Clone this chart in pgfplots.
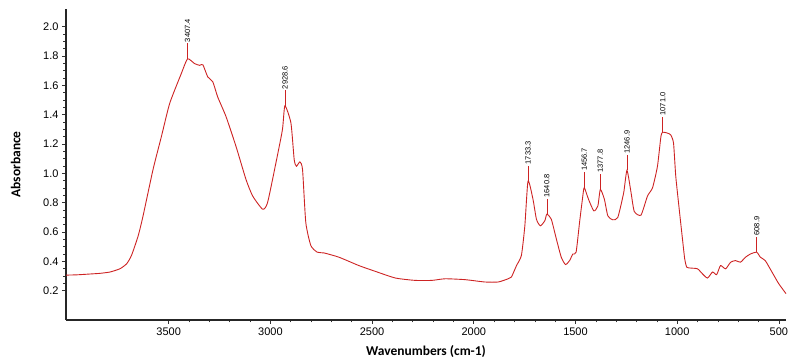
\documentclass[border=0pt]{standalone}
\usepackage{pgfplots}
\pgfplotsset{compat=1.18}
\usepackage{fontspec}
\setmainfont{Liberation Sans}
\newfontfamily\labelfont{Carlito}
\definecolor{specred}{RGB}{205,35,35}
\tikzset{pk/.style={specred, line width=0.6pt}, pklab/.style={black, rotate=90, anchor=west, inner sep=1pt, font=\fontsize{7.5}{8}\selectfont}}
\begin{document}
\begin{tikzpicture}
\begin{axis}[
  scale only axis,
  width=720pt, height=311pt,
  x dir=reverse,
  xmin=465, xmax=4005,
  ymin=0, ymax=2.12,
  axis lines=left,
  axis line style={-, line width=1.2pt, black!85},
  xtick={500,1000,...,3500},
  ytick={0.2,0.4,...,2.01},
  minor x tick num=4,
  minor y tick num=3,
  tick align=outside,
  major tick length=4pt,
  minor tick length=2.5pt,
  tick style={black!80, line width=0.6pt},
  /pgf/number format/assume math mode=true,
  x tick label style={font=\fontsize{11}{12}\selectfont, /pgf/number format/1000 sep={}},
  y tick label style={font=\fontsize{11}{12}\selectfont, /pgf/number format/fixed, /pgf/number format/fixed zerofill, /pgf/number format/precision=1},
  xlabel={\labelfont\bfseries Wavenumbers (cm-1)},
  ylabel={\labelfont\bfseries Absorbance},
  xlabel style={font=\fontsize{13.5}{14}\selectfont, at={(axis description cs:0.5,0)}, anchor=north, yshift=-22pt},
  ylabel style={font=\fontsize{13.5}{14}\selectfont, at={(axis description cs:0,0.5)}, anchor=south, yshift=42pt},
  clip=false,
]
\addplot[color=specred, line width=0.9pt, smooth, tension=0.35] coordinates {
(4004,0.306) (3950,0.308) (3870,0.315) (3838,0.318) (3789,0.327) (3740,0.349)
(3707,0.383) (3683,0.44) (3650,0.574) (3626,0.71) (3577,1.026) (3536,1.25)
(3495,1.477) (3438,1.68) (3407.4,1.78) (3373,1.748) (3348,1.736) (3332,1.74)
(3308,1.657) (3283,1.623) (3259,1.52) (3218,1.386) (3169,1.183) (3120,0.958)
(3087,0.845) (3038,0.755) (3014,0.80) (2973,1.07) (2941,1.296) (2928.6,1.46)
(2899,1.342) (2883,1.093) (2872,1.048) (2855,1.078) (2842,1.026) (2826,0.665)
(2801,0.507) (2769,0.462) (2736,0.457) (2663,0.428) (2565,0.371) (2483,0.331)
(2385,0.286) (2288,0.27) (2206,0.27) (2141,0.281) (2043,0.275) (1945,0.259)
(1880,0.259) (1831,0.281) (1815,0.293) (1790,0.371) (1766,0.44) (1749,0.642)
(1733.3,0.947) (1709,0.823) (1692,0.687) (1673,0.642) (1651,0.676) (1640.8,0.721)
(1619,0.687) (1594,0.552) (1570,0.428) (1549,0.378) (1529,0.405) (1513,0.45)
(1497,0.462) (1480,0.665) (1464,0.845) (1456.7,0.902) (1436,0.823) (1410,0.744)
(1390,0.777) (1377.8,0.89) (1358,0.823) (1341,0.71) (1317,0.683) (1292,0.699)
(1263,0.868) (1246.9,1.02) (1227,0.87) (1211,0.74) (1178,0.715) (1146,0.845)
(1121,0.902) (1097,1.048) (1080,1.25) (1071,1.28) (1048,1.274) (1032,1.262)
(1018,1.206) (1007,0.98) (990,0.755) (974,0.552) (963,0.417) (953,0.36)
(933,0.354) (900,0.349) (876,0.315) (851,0.286) (826,0.327) (806,0.309)
(787,0.371) (762,0.349) (737,0.394) (713,0.405) (689,0.394) (664,0.428)
(640,0.45) (608.9,0.462) (591,0.428) (567,0.405) (534,0.327) (501,0.248) (465,0.18)
};
\draw[pk] (axis cs:3407.4,1.78) -- ++(0pt,15.5pt) node[pklab] {3407.4};
\draw[pk] (axis cs:2928.6,1.46) -- ++(0pt,15.5pt) node[pklab] {2928.6};
\draw[pk] (axis cs:1733.3,0.947) -- ++(0pt,15.5pt) node[pklab] {1733.3};
\draw[pk] (axis cs:1640.8,0.721) -- ++(0pt,15.5pt) node[pklab] {1640.8};
\draw[pk] (axis cs:1456.7,0.902) -- ++(0pt,15.5pt) node[pklab] {1456.7};
\draw[pk] (axis cs:1377.8,0.89) -- ++(0pt,15.5pt) node[pklab] {1377.8};
\draw[pk] (axis cs:1246.9,1.02) -- ++(0pt,15.5pt) node[pklab] {1246.9};
\draw[pk] (axis cs:1071,1.28) -- ++(0pt,15.5pt) node[pklab] {1071.0};
\draw[pk] (axis cs:608.9,0.462) -- ++(0pt,15.5pt) node[pklab] {608.9};
\end{axis}
\pgfresetboundingbox
\path[use as bounding box] ([xshift=-66pt,yshift=-43pt]current axis.south west) rectangle ([xshift=3pt,yshift=9pt]current axis.north east);
\end{tikzpicture}
\end{document}
